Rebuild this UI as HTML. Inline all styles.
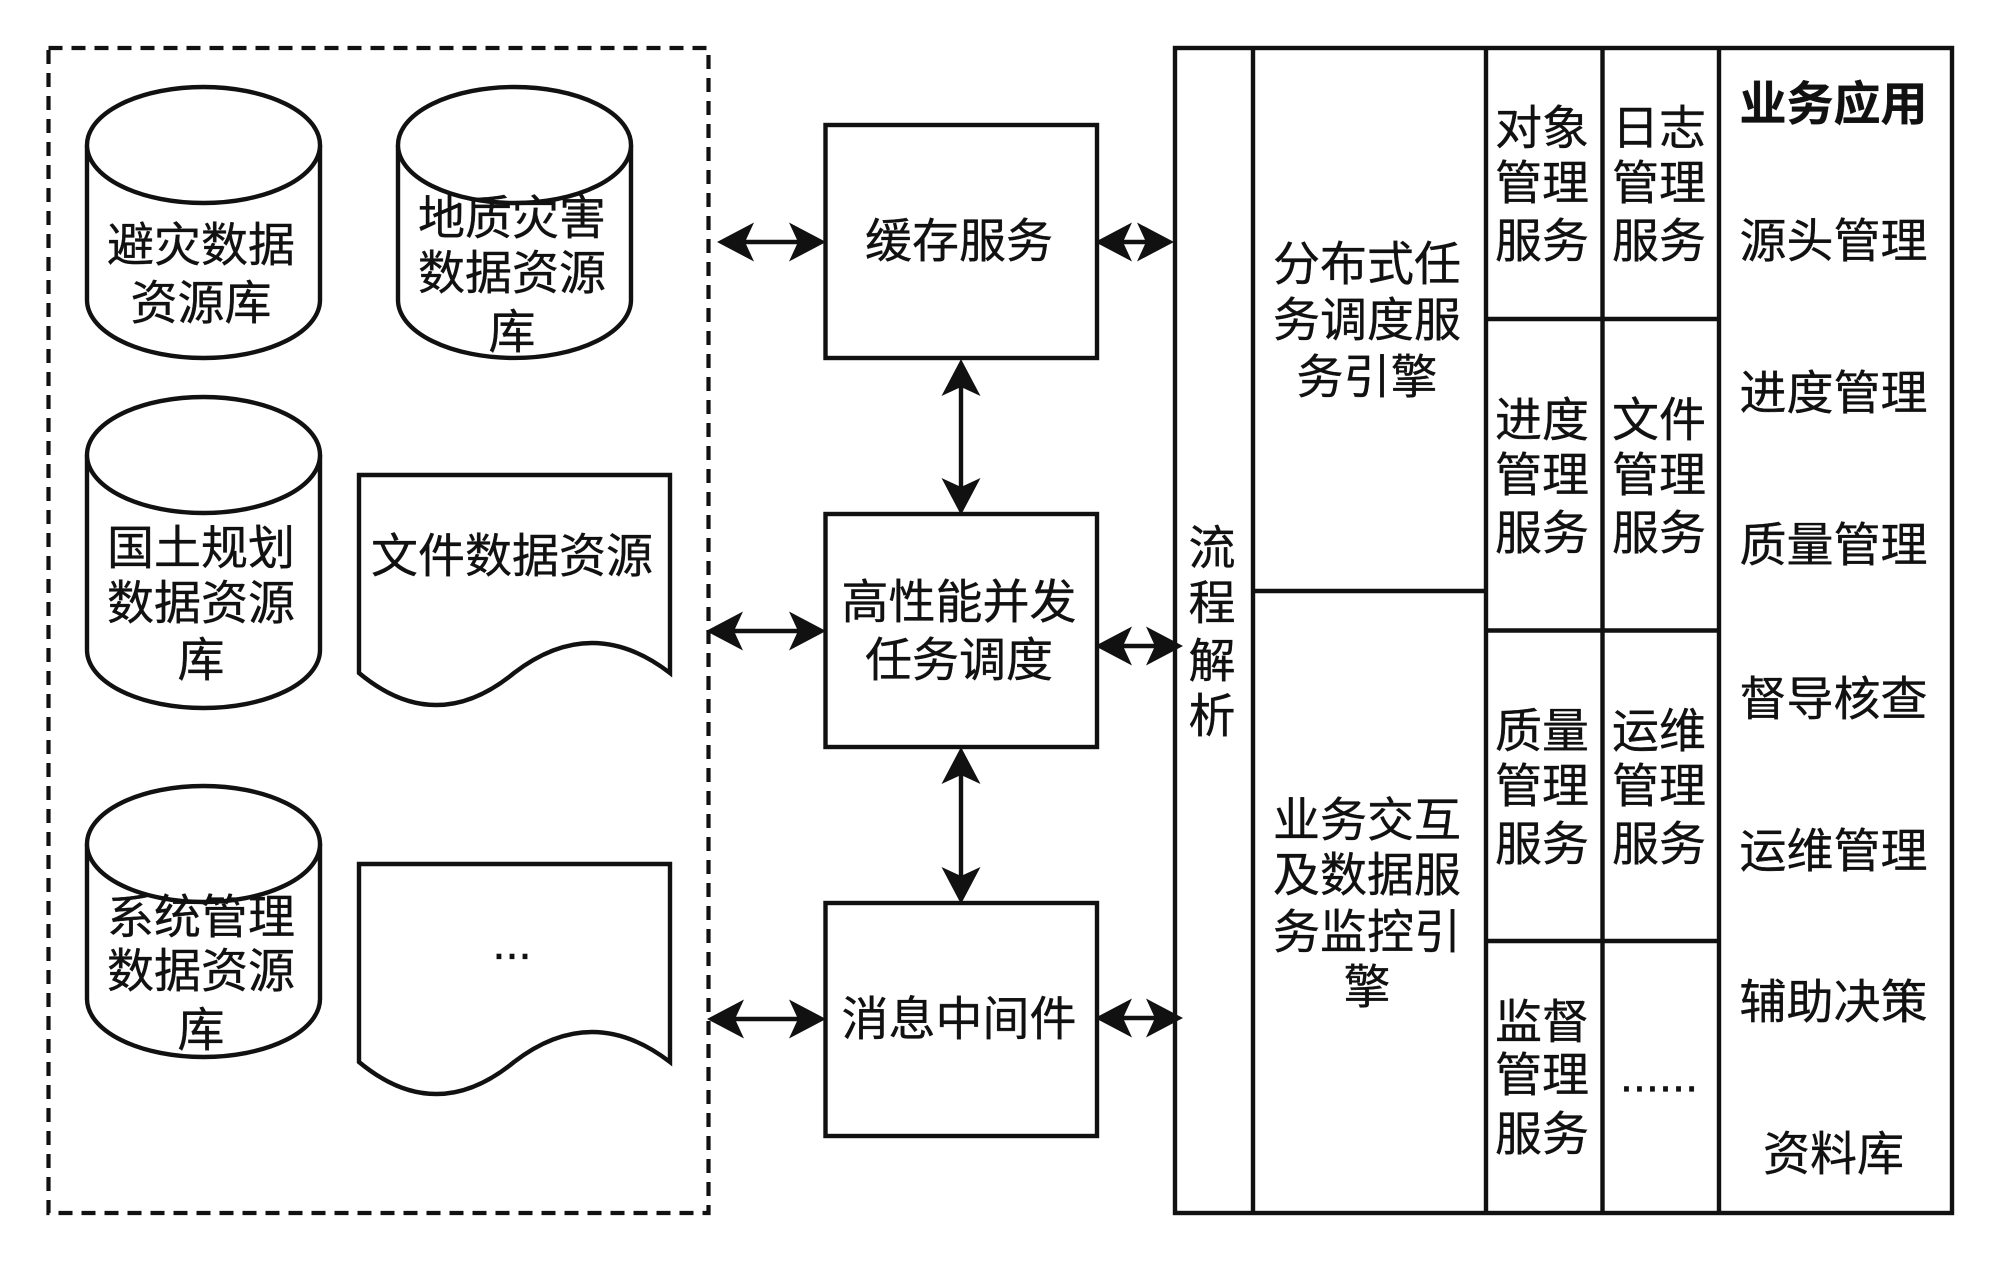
<!DOCTYPE html>
<html lang="zh">
<head>
<meta charset="utf-8">
<style>
html,body{margin:0;padding:0;background:#fff;}
svg{display:block;}
text{font-family:"Liberation Sans","Noto Sans CJK SC","WenQuanYi Zen Hei",sans-serif;font-size:47px;fill:#111;stroke:#111;stroke-width:.35;text-anchor:middle;}
.s{fill:#fff;stroke:#111;stroke-width:4.4;}
.l{fill:none;stroke:#111;stroke-width:4.4;}
.a{fill:#111;stroke:none;}
</style>
</head>
<body>
<svg width="2000" height="1265" viewBox="0 0 2000 1265" xmlns="http://www.w3.org/2000/svg">
<defs>
<path id="hd" d="M-1 0L36 -19.500L27 0L36 19.500Z"/>
</defs>

<rect x="48.5" y="48" width="660" height="1165" fill="none" stroke="#111" stroke-width="4.2" stroke-dasharray="14 9"/>

<!-- cylinders -->
<path class="s" d="M87 145V300A116.500 58 0 0 0 320 300V145"/><ellipse class="s" cx="203.500" cy="145" rx="116.500" ry="58"/>
<path class="s" d="M398 145V300A116.500 58 0 0 0 631 300V145"/><ellipse class="s" cx="514.500" cy="145" rx="116.500" ry="58"/>
<path class="s" d="M87 455V650A116.500 58 0 0 0 320 650V455"/><ellipse class="s" cx="203.500" cy="455" rx="116.500" ry="58"/>
<path class="s" d="M87 844V999A116.500 58 0 0 0 320 999V844"/><ellipse class="s" cx="203.500" cy="844" rx="116.500" ry="58"/>

<!-- documents -->
<path class="s" d="M359 475H670V673Q592 613 514 673Q436 737 359 673Z"/>
<path class="s" d="M359 864H670V1062Q592 1002 514 1062Q436 1126 359 1062Z"/>

<!-- middle boxes -->
<rect class="s" x="825.500" y="125" width="271.500" height="233"/>
<rect class="s" x="825.500" y="514" width="271.500" height="233"/>
<rect class="s" x="825.500" y="903" width="271.500" height="233"/>

<!-- right table -->
<rect class="s" x="1175" y="48" width="777" height="1165"/>
<path class="l" d="M1253 48V1213M1486 48V1213M1602.500 48V1213M1719 48V1213M1253 591H1486M1486 319H1719M1486 630.500H1719M1486 941H1719"/>

<!-- connectors -->
<path class="l" d="M725 242H818M1103 242H1166M961 367V507M714 631H818M1103 646H1175M961 755V896M714 1019H818M1103 1018H1175"/>
<use class="a" href="#hd" transform="translate(718 242)"/>
<use class="a" href="#hd" transform="translate(825 242) rotate(180)"/>
<use class="a" href="#hd" transform="translate(1096 242)"/>
<use class="a" href="#hd" transform="translate(1173 242) rotate(180)"/>
<use class="a" href="#hd" transform="translate(961 360) rotate(90)"/>
<use class="a" href="#hd" transform="translate(961 514) rotate(-90)"/>
<use class="a" href="#hd" transform="translate(707 631)"/>
<use class="a" href="#hd" transform="translate(825 631) rotate(180)"/>
<use class="a" href="#hd" transform="translate(1096 646)"/>
<use class="a" href="#hd" transform="translate(1182 646) rotate(180)"/>
<use class="a" href="#hd" transform="translate(961 748) rotate(90)"/>
<use class="a" href="#hd" transform="translate(961 903) rotate(-90)"/>
<use class="a" href="#hd" transform="translate(708 1019)"/>
<use class="a" href="#hd" transform="translate(825 1019) rotate(180)"/>
<use class="a" href="#hd" transform="translate(1096 1018)"/>
<use class="a" href="#hd" transform="translate(1182 1018) rotate(180)"/>

<g transform="translate(0 1.5)">
<!-- text: left -->
<text x="201" y="260">避灾数据</text><text x="201" y="318">资源库</text>
<text x="512" y="233">地质灾害</text><text x="512" y="288">数据资源</text><text x="512" y="347">库</text>
<text x="201" y="563">国土规划</text><text x="201" y="618">数据资源</text><text x="201" y="675">库</text>
<text x="512" y="571">文件数据资源</text>
<text x="201" y="932">系统管理</text><text x="201" y="986">数据资源</text><text x="201" y="1045">库</text>
<text x="512" y="957.500">...</text>

<!-- text: middle -->
<text x="959" y="256">缓存服务</text>
<text x="959" y="617">高性能并发</text><text x="959" y="675">任务调度</text>
<text x="959" y="1034">消息中间件</text>

<!-- text: right -->
<text x="1212" y="563">流</text><text x="1212" y="618">程</text><text x="1212" y="676">解</text><text x="1212" y="731">析</text>
<text x="1367" y="279">分布式任</text><text x="1367" y="335">务调度服</text><text x="1367" y="392">务引擎</text>
<text x="1367" y="835">业务交互</text><text x="1367" y="890">及数据服</text><text x="1367" y="947">务监控引</text><text x="1367" y="1002">擎</text>

<text x="1542" y="143">对象</text><text x="1542" y="198">管理</text><text x="1542" y="256">服务</text>
<text x="1659" y="143">日志</text><text x="1659" y="198">管理</text><text x="1659" y="256">服务</text>
<text x="1542" y="435">进度</text><text x="1542" y="490">管理</text><text x="1542" y="548">服务</text>
<text x="1659" y="435">文件</text><text x="1659" y="490">管理</text><text x="1659" y="548">服务</text>
<text x="1542" y="746">质量</text><text x="1542" y="801">管理</text><text x="1542" y="859">服务</text>
<text x="1659" y="746">运维</text><text x="1659" y="801">管理</text><text x="1659" y="859">服务</text>
<text x="1542" y="1037">监督</text><text x="1542" y="1090">管理</text><text x="1542" y="1149">服务</text>
<text x="1659" y="1090">......</text>

<text x="1833.500" y="119" font-weight="700">业务应用</text>
<text x="1833.500" y="256">源头管理</text>
<text x="1833.500" y="408">进度管理</text>
<text x="1833.500" y="560">质量管理</text>
<text x="1833.500" y="714">督导核查</text>
<text x="1833.500" y="866">运维管理</text>
<text x="1833.500" y="1017">辅助决策</text>
<text x="1833.500" y="1169">资料库</text>
</g>
</svg>
</body>
</html>
